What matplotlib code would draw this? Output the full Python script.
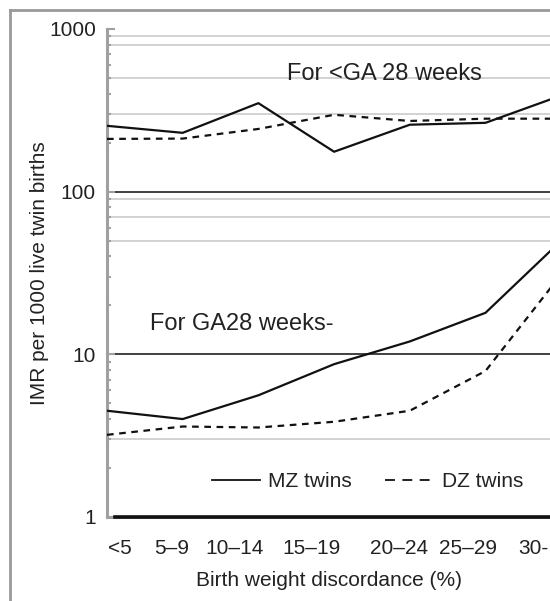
import numpy as np
from matplotlib import pyplot
from matplotlib.lines import Line2D

categories = ['<5', '5–9', '10–14', '15–19', '20–24', '25–29', '30-']
mz_under28 = [254, 230, 350, 176, 258, 265, 390]
dz_under28 = [211, 212, 243, 297, 272, 281, 281]
mz_over28 = [4.5, 4.0, 5.6, 8.7, 12.0, 18.0, 50]
dz_over28 = [3.2, 3.6, 3.55, 3.85, 4.5, 7.9, 31]
minor_grid = [3, 50, 70, 90, 300, 500, 800, 900]
major_grid = [10, 100]

# label positions in the original are not centred on the points
label_pos = [0.17, 0.85, 1.68, 2.70, 3.86, 4.77, 5.63]

pyplot.rcParams['font.family'] = ['Liberation Sans', 'DejaVu Sans']
ink = '#222222'
gray = '#a0a0a0'

fig = pyplot.figure(figsize=(5.5, 6.01), dpi=100)
ax = fig.add_axes([107 / 550, 1 - 517 / 601, 1 - 107 / 550, 488 / 601])

x = np.arange(len(categories))
ax.set_yscale('log')
ax.set_ylim(1, 1000)
ax.set_xlim(0, 443 / 75.7)

for v in minor_grid:
    ax.axhline(v, xmin=0.007, color='#cfcfcf', lw=1.3, zorder=1)
for v in major_grid:
    ax.axhline(v, xmin=0.014, color='#333333', lw=1.3, zorder=1)
ax.axhline(1, xmin=0.018, color='#111111', lw=2.6, zorder=3, clip_on=False)

ax.plot(x, mz_under28, color='#111111', lw=1.6, zorder=4)
ax.plot(x, dz_under28, color='#111111', lw=1.6, dashes=(3, 2.5), zorder=4)
ax.plot(x, mz_over28, color='#111111', lw=1.6, zorder=4)
ax.plot(x, dz_over28, color='#111111', lw=1.6, dashes=(3, 2.5), zorder=4)

ax.text(2.38, 530, 'For <GA 28 weeks', fontsize=17, color=ink, va='center', ha='left')
ax.text(0.57, 15.3, 'For GA28 weeks-', fontsize=17, color=ink, va='center', ha='left')

handles = [Line2D([], [], color='#111111', lw=1.3),
           Line2D([], [], color='#111111', lw=1.3, dashes=(5.5, 4.1))]
leg = ax.legend(handles, ['MZ twins', 'DZ twins'], loc='center',
                bbox_to_anchor=(0.588, 0.072), ncol=2, frameon=False,
                fontsize=15, handlelength=2.3, handletextpad=0.4, columnspacing=1.6,
                borderpad=0)
for t in leg.get_texts():
    t.set_color(ink)

for side in ('top', 'right'):
    ax.spines[side].set_visible(False)
for side in ('left', 'bottom'):
    ax.spines[side].set_color(gray)
    ax.spines[side].set_linewidth(2.2)

ax.set_yticks([1, 10, 100, 1000])
ax.set_yticklabels(['1', '10', '100', '1000'])
ax.tick_params(axis='y', which='major', direction='in', length=6, width=1.5,
               color=gray, labelsize=15, labelcolor=ink, pad=8)
ax.tick_params(axis='y', which='minor', direction='in', length=3, width=1.5, color=gray)

ax.set_xticks(label_pos)
ax.set_xticklabels(categories)
ax.tick_params(axis='x', length=0, labelsize=15, labelcolor=ink, pad=16)

ax.set_xlabel('Birth weight discordance (%)', fontsize=15, color=ink, labelpad=9)
ax.set_ylabel('IMR per 1000 live twin births', fontsize=15, color=ink, labelpad=0)

# outer frame of the original figure panel
fig.add_artist(Line2D([10 / 550, 1], [1 - 10 / 601] * 2, transform=fig.transFigure,
                      color='#999999', lw=2))
fig.add_artist(Line2D([10 / 550] * 2, [0, 1 - 10 / 601], transform=fig.transFigure,
                      color='#999999', lw=2))

pyplot.savefig('out.png', dpi=100)
